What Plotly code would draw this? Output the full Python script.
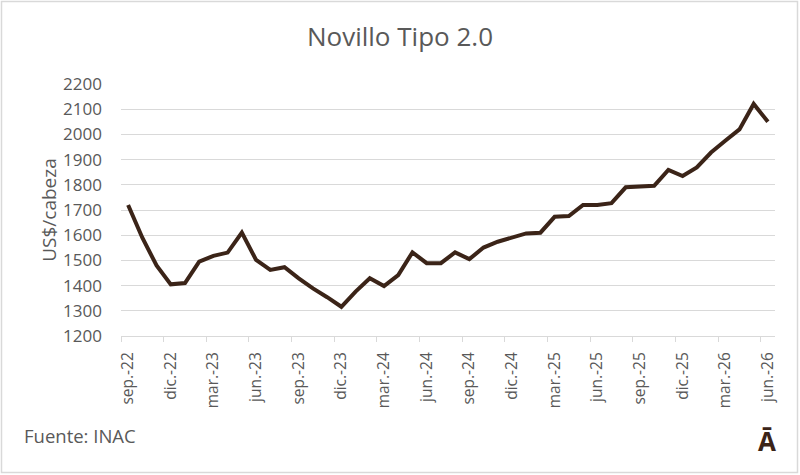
import plotly.graph_objects as go

months = ["sep.-22","oct.-22","nov.-22","dic.-22","ene.-23","feb.-23","mar.-23","abr.-23","may.-23","jun.-23",
          "jul.-23","ago.-23","sep.-23","oct.-23","nov.-23","dic.-23","ene.-24","feb.-24","mar.-24","abr.-24",
          "may.-24","jun.-24","jul.-24","ago.-24","sep.-24","oct.-24","nov.-24","dic.-24","ene.-25","feb.-25",
          "mar.-25","abr.-25","may.-25","jun.-25","jul.-25","ago.-25","sep.-25","oct.-25","nov.-25","dic.-25",
          "ene.-26","feb.-26","mar.-26","abr.-26","may.-26","jun.-26"]
values = [1720, 1590, 1480, 1405, 1410, 1495, 1518, 1531, 1610, 1502,
          1462, 1473, 1429, 1389, 1354, 1316, 1376, 1429, 1398, 1442,
          1532, 1489, 1489, 1532, 1505, 1551, 1574, 1592, 1607, 1610,
          1673, 1676, 1720, 1720, 1727, 1790, 1793, 1796, 1859, 1835,
          1869, 1928, 1975, 2020, 2121, 2050]
y_ticks = [1200, 1300, 1400, 1500, 1600, 1700, 1800, 1900, 2000, 2100, 2200]

idx = list(range(len(months)))
label_idx = idx[::3]
label_txt = months[::3]
boundary_idx = [i - 0.5 for i in label_idx]

TXT = "#595959"
LINE = "#3b2418"
GRID = "#d9d9d9"
FONT = "Open Sans"

fig = go.Figure()
fig.add_trace(go.Scatter(x=idx, y=values, mode="lines",
                         line=dict(color=LINE, width=4, shape="linear"),
                         showlegend=False, hoverinfo="x+y"))
# invisible trace on overlay axis for boundary tick marks
fig.add_trace(go.Scatter(x=[idx[0], idx[-1]], y=[values[0], values[-1]], xaxis="x2",
                         mode="lines", line=dict(width=0), opacity=0,
                         showlegend=False, hoverinfo="skip"))

L, R, T, B = 121, 25, 84, 139
W, H = 800, 475
pw, ph = W - L - R, H - T - B

fig.update_layout(
    width=W, height=H,
    margin=dict(l=L, r=R, t=T, b=B),
    paper_bgcolor="white", plot_bgcolor="white",
    font=dict(family=FONT, color=TXT),
    title=dict(text="Novillo Tipo 2.0", x=0.5, xanchor="center", y=1 - 37 / H, yanchor="middle",
               font=dict(size=26, color=TXT, family=FONT)),
    xaxis=dict(range=[-0.5, len(months) - 0.5], tickmode="array", tickvals=label_idx, ticktext=label_txt,
               tickangle=-90, tickfont=dict(size=15.5, color=TXT), showgrid=False, zeroline=False,
               showline=True, linecolor=GRID, linewidth=1, ticks="", ticklabelstandoff=9),
    xaxis2=dict(range=[-0.5, len(months) - 0.5], overlaying="x", anchor="y", side="bottom",
                tickmode="array", tickvals=boundary_idx, ticktext=["" for _ in boundary_idx],
                ticks="outside", ticklen=5, tickcolor=GRID, tickwidth=1, showgrid=False,
                zeroline=False, showline=False, showticklabels=False),
    yaxis=dict(range=[1200, 2200], tickmode="array", tickvals=y_ticks, ticktext=[str(v) for v in y_ticks],
               tickfont=dict(size=17, color=TXT), showgrid=True, gridcolor=GRID, gridwidth=1,
               zeroline=False, showline=False, ticks="", ticklabelstandoff=18,
               title=dict(text="US$/cabeza", font=dict(size=19, color=TXT), standoff=1)),
    annotations=[
        dict(text="Fuente: INAC", xref="paper", yref="paper", x=(22 - L) / pw, y=-(435 - T - ph) / ph,
             xanchor="left", yanchor="middle", showarrow=False, font=dict(size=18.5, color=TXT, family=FONT)),
        dict(text="<b>Ā</b>", xref="paper", yref="paper", x=(767 - L) / pw, y=-(441 - T - ph) / ph,
             xanchor="center", yanchor="middle", showarrow=False, font=dict(size=26, color=LINE, family=FONT)),
    ],
    shapes=[dict(type="rect", xref="paper", yref="paper",
                 x0=-(L - 1.5) / pw, x1=1 + (R - 2.5) / pw, y0=-(B - 2.5) / ph, y1=1 + (T - 1.5) / ph,
                 line=dict(color=GRID, width=1.5), fillcolor="rgba(0,0,0,0)", layer="below")],
)

fig.write_html("out.html")
